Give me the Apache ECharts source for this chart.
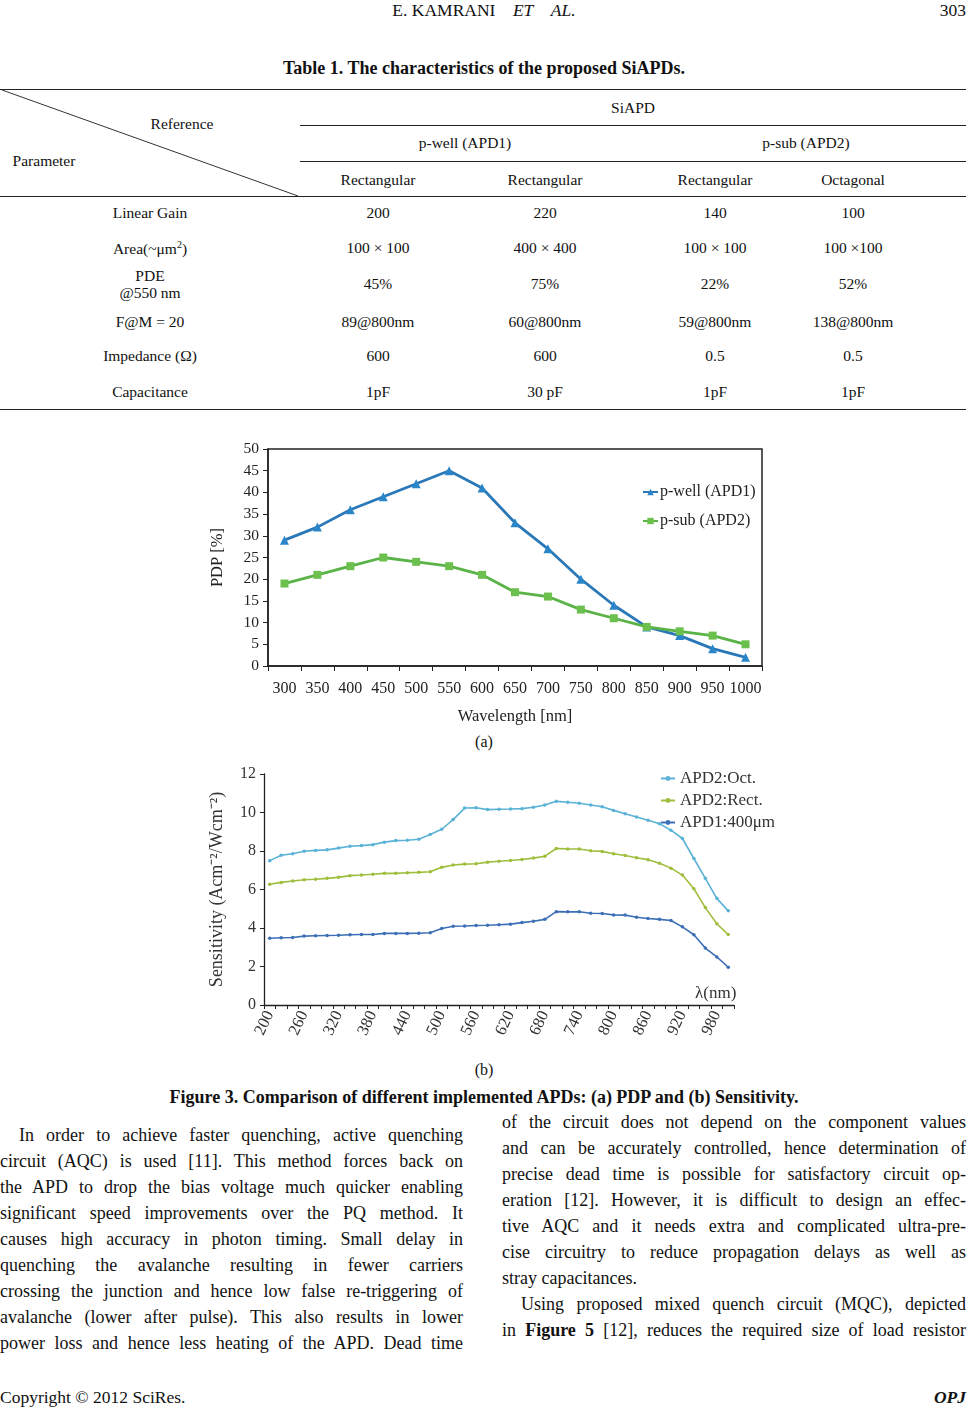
<!DOCTYPE html>
<html><head><meta charset="utf-8">
<script src="https://cdn.jsdelivr.net/npm/echarts@6/dist/echarts.min.js"></script>
<style>
html,body{margin:0;padding:0;background:#fff;}
#page{position:relative;width:968px;height:1414px;overflow:hidden;font-family:'Liberation Serif','Times New Roman',serif;color:#111;}
.t{position:absolute;white-space:nowrap;line-height:1;}
.c{transform:translate(-50%,-50%);}
.l{transform:translateY(-50%);}
.r{transform:translate(-100%,-50%);}
.hl{position:absolute;height:0;border-top:1.4px solid #222;}
.bl{position:absolute;font-size:18px;line-height:1;white-space:nowrap;transform:translateY(-50%);}
.j{text-align:justify;text-align-last:justify;}
#chartA{position:absolute;left:200px;top:435px;width:570px;height:295px;}
#chartB{position:absolute;left:200px;top:760px;width:590px;height:300px;}
</style></head>
<body><div id="page"></div>
<script>
// ---------- data ----------
const tableRowLabels = ['Linear Gain','Area(~μm<sup style="font-size:10px">2</sup>)','PDE<br>@550 nm','F@M = 20','Impedance (Ω)','Capacitance'];
const tableColA = ['200','100 × 100','45%','89@800nm','600','1pF'];
const tableColB = ['220','400 × 400','75%','60@800nm','600','30 pF'];
const tableColC = ['140','100 × 100','22%','59@800nm','0.5','1pF'];
const tableColD = ['100','100 ×100','52%','138@800nm','0.5','1pF'];
const tableShapes = ['Rectangular','Rectangular','Rectangular','Octagonal'];

const pdpWavelengths = ['300','350','400','450','500','550','600','650','700','750','800','850','900','950','1000'];
const pdpPWell = [29,32,36,39,42,45,41,33,27,20,14,9,7,4,2];
const pdpPSub  = [19,21,23,25,24,23,21,17,16,13,11,9,8,7,5];

const sensWavelengths = ['200','220','240','260','280','300','320','340','360','380','400','420','440','460','480','500','520','540','560','580','600','620','640','660','680','700','720','740','760','780','800','820','840','860','880','900','920','940','960','980','1000'];
const sensApd2Oct  = [7.5,7.78,7.86,7.99,8.03,8.06,8.15,8.25,8.28,8.33,8.46,8.54,8.56,8.61,8.86,9.13,9.63,10.23,10.25,10.15,10.17,10.18,10.2,10.27,10.39,10.58,10.53,10.48,10.39,10.3,10.11,9.94,9.77,9.6,9.42,9.08,8.65,7.61,6.58,5.54,4.89];
const sensApd2Rect = [6.27,6.37,6.44,6.51,6.53,6.58,6.63,6.72,6.75,6.79,6.84,6.84,6.87,6.89,6.92,7.15,7.27,7.32,7.34,7.42,7.47,7.51,7.56,7.63,7.73,8.13,8.11,8.1,8.01,7.98,7.86,7.77,7.65,7.55,7.36,7.11,6.75,6.04,5.06,4.22,3.66];
const sensApd1     = [3.47,3.49,3.51,3.58,3.6,3.61,3.62,3.65,3.66,3.66,3.72,3.72,3.72,3.73,3.75,3.97,4.09,4.1,4.13,4.14,4.17,4.2,4.28,4.35,4.45,4.85,4.84,4.84,4.77,4.75,4.68,4.67,4.56,4.49,4.45,4.39,4.06,3.65,2.96,2.5,1.96];

const leftLines = [
 ['In order to achieve faster quenching, active quenching',1],
 ['circuit (AQC) is used [11]. This method forces back on',1],
 ['the APD to drop the bias voltage much quicker enabling',1],
 ['significant speed improvements over the PQ method. It',1],
 ['causes high accuracy in photon timing. Small delay in',1],
 ['quenching the avalanche resulting in fewer carriers',1],
 ['crossing the junction and hence low false re-triggering of',1],
 ['avalanche (lower after pulse). This also results in lower',1],
 ['power loss and hence less heating of the APD. Dead time',1]
];
const rightLines = [
 ['of the circuit does not depend on the component values',1],
 ['and can be accurately controlled, hence determination of',1],
 ['precise dead time is possible for satisfactory circuit op-',1],
 ['eration [12]. However, it is difficult to design an effec-',1],
 ['tive AQC and it needs extra and complicated ultra-pre-',1],
 ['cise circuitry to reduce propagation delays as well as',1],
 ['stray capacitances.',0],
 ['Using proposed mixed quench circuit (MQC), depicted',1],
 ['in <b>Figure 5</b> [12], reduces the required size of load resistor',1]
];

// ---------- page text ----------
const page = document.getElementById('page');
function txt(html, x, y, cls, style){
  const d = document.createElement('div');
  d.className = 't ' + cls;
  d.style.left = x + 'px'; d.style.top = y + 'px';
  if (style) d.style.cssText += style;
  d.innerHTML = html; page.appendChild(d); return d;
}
function hline(x1, x2, y){
  const d = document.createElement('div'); d.className='hl';
  d.style.left = x1+'px'; d.style.width=(x2-x1)+'px'; d.style.top=y+'px'; page.appendChild(d);
}
txt('E. KAMRANI&nbsp;&nbsp;&nbsp;&nbsp;<i>ET&nbsp;&nbsp;&nbsp;&nbsp;AL.</i>', 484, 11, 'c', 'font-size:17.5px;');
txt('303', 966, 11, 'r', 'font-size:17.5px;');
txt('<b>Table 1. The characteristics of the proposed SiAPDs.</b>', 484, 68, 'c', 'font-size:18px;');
hline(0, 966, 89); hline(300, 966, 125); hline(300, 966, 161); hline(0, 966, 196); hline(0, 966, 409);
const svg = document.createElementNS('http://www.w3.org/2000/svg','svg');
svg.setAttribute('width','968'); svg.setAttribute('height','220');
svg.style.cssText='position:absolute;left:0;top:0;';
svg.innerHTML = '<line x1="2" y1="90" x2="298" y2="196" stroke="#333" stroke-width="1"/>';
page.appendChild(svg);
const fs = 'font-size:15.5px;';
txt('Reference', 182, 124, 'c', fs);
txt('Parameter', 44, 161, 'c', fs);
txt('SiAPD', 633, 108, 'c', fs);
txt('p-well (APD1)', 465, 143, 'c', fs);
txt('p-sub (APD2)', 806, 143, 'c', fs);
const colX = [378, 545, 715, 853];
tableShapes.forEach((s,i)=>txt(s, colX[i], 180, 'c', fs));
const rowY = [213, 248, 284, 322, 356, 392];
const cols = [tableColA, tableColB, tableColC, tableColD];
tableRowLabels.forEach((lab,r)=>{
  txt(lab, 150, rowY[r], 'c', fs + (r===2?'text-align:center;line-height:17px;':''));
  cols.forEach((col,c)=>txt(col[r], colX[c], rowY[r], 'c', fs));
});
txt('(a)', 484, 742, 'c', 'font-size:16px;');
txt('(b)', 484, 1070, 'c', 'font-size:16px;');
txt('<b>Figure 3. Comparison of different implemented APDs: (a) PDP and (b) Sensitivity.</b>', 484, 1097, 'c', 'font-size:18px;');

function bodyLine(html, x, w, y, just, indent){
  const d = document.createElement('div');
  d.className = 'bl' + (just ? ' j' : '');
  d.style.left = (x+indent)+'px'; d.style.width = (w-indent)+'px'; d.style.top = y+'px';
  d.innerHTML = html; page.appendChild(d);
}
leftLines.forEach((l,i)=>bodyLine(l[0], 0, 463, 1135 + 26*i, l[1], i===0?19:0));
rightLines.forEach((l,i)=>bodyLine(l[0], 502, 464, 1122 + 26*i, l[1], i===7?19:0));
txt('Copyright © 2012 SciRes.', 0, 1398, 'l', 'font-size:17.5px;');
txt('<b><i>OPJ</i></b>', 966, 1398, 'r', 'font-size:17.5px;');

const ca = document.createElement('div'); ca.id='chartA'; page.appendChild(ca);
const cb = document.createElement('div'); cb.id='chartB'; page.appendChild(cb);

// ---------- chart (a) ----------
const serif = "'Liberation Serif','Times New Roman',serif";
const chartA = echarts.init(ca, null, {renderer:'canvas'});
chartA.setOption({
  animation:false,
  backgroundColor:'transparent',
  grid:{left:68, right:8, top:14, bottom:62, show:true, borderColor:'#222', borderWidth:1.5, backgroundColor:'transparent'},
  legend:{
    orient:'vertical', left:437, top:44, itemGap:13, itemWidth:15, itemHeight:8, itemStyle:{},
    textStyle:{fontFamily:serif, fontSize:16, color:'#222', padding:[0,0,0,-3]},
    data:['p-well (APD1)','p-sub (APD2)']
  },
  xAxis:{
    type:'category', data:pdpWavelengths, boundaryGap:true,
    name:'Wavelength [nm]', nameLocation:'middle', nameGap:42,
    nameTextStyle:{fontFamily:serif, fontSize:16.5, color:'#222'},
    axisLine:{show:true, lineStyle:{color:'#222', width:1.5}},
    axisTick:{show:true, length:5, lineStyle:{color:'#222'}},
    axisLabel:{fontFamily:serif, fontSize:16, color:'#222', margin:15, interval:0},
    splitLine:{show:false}
  },
  yAxis:{
    type:'value', min:0, max:50, interval:5,
    name:'PDP [%]', nameLocation:'middle', nameGap:42,
    nameTextStyle:{fontFamily:serif, fontSize:16.5, color:'#222'},
    axisLine:{show:true, lineStyle:{color:'#222', width:1.5}},
    axisTick:{show:true, length:5, lineStyle:{color:'#222'}},
    axisLabel:{fontFamily:serif, fontSize:15.5, color:'#222', margin:9},
    splitLine:{show:false}
  },
  series:[
    {name:'p-well (APD1)', type:'line', data:pdpPWell, symbol:'triangle', symbolSize:9,
     lineStyle:{color:'#2a78b8', width:2.8}, itemStyle:{color:'#2a86c8'}},
    {name:'p-sub (APD2)', type:'line', data:pdpPSub, symbol:'rect', symbolSize:8,
     lineStyle:{color:'#59b346', width:2.8}, itemStyle:{color:'#6cc04e'}}
  ]
});

// ---------- chart (b) ----------
const chartB = echarts.init(cb, null, {renderer:'canvas'});
chartB.setOption({
  animation:false,
  backgroundColor:'transparent',
  grid:{left:62, right:56, top:14, bottom:55},
  legend:{
    orient:'vertical', left:455, top:5, itemGap:5, itemWidth:14, itemHeight:6,
    textStyle:{fontFamily:serif, fontSize:17, color:'#333'},
    data:['APD2:Oct.','APD2:Rect.','APD1:400μm']
  },
  graphic:[{type:'text', left:495, top:225, style:{text:'λ(nm)', font:"17px 'Liberation Serif', serif", fill:'#333'}}],
  xAxis:{
    type:'category', data:sensWavelengths, boundaryGap:true,
    axisLine:{show:true, lineStyle:{color:'#222', width:1.3}},
    axisTick:{show:true, interval:0, length:4, lineStyle:{color:'#222'}},
    axisLabel:{fontFamily:serif, fontSize:16.5, color:'#333', rotate:65, margin:7,
      interval:function(i){return i % 3 === 0;}},
    splitLine:{show:false}
  },
  yAxis:{
    type:'value', min:0, max:12, interval:2,
    name:'Sensitivity (Acm⁻²/Wcm⁻²)', nameLocation:'middle', nameGap:38,
    nameTextStyle:{fontFamily:serif, fontSize:18, color:'#333'},
    axisLine:{show:true, lineStyle:{color:'#222', width:1.3}},
    axisTick:{show:true, length:4, lineStyle:{color:'#222'}},
    axisLabel:{fontFamily:serif, fontSize:16, color:'#333', margin:8},
    splitLine:{show:false}
  },
  series:[
    {name:'APD2:Oct.', type:'line', data:sensApd2Oct, symbol:'circle', symbolSize:3.5,
     lineStyle:{color:'#5ab3d6', width:1.6}, itemStyle:{color:'#5ab3d6'}},
    {name:'APD2:Rect.', type:'line', data:sensApd2Rect, symbol:'circle', symbolSize:3.5,
     lineStyle:{color:'#9fbe3d', width:1.6}, itemStyle:{color:'#9fbe3d'}},
    {name:'APD1:400μm', type:'line', data:sensApd1, symbol:'circle', symbolSize:3.5,
     lineStyle:{color:'#3d6fb6', width:1.6}, itemStyle:{color:'#3d6fb6'}}
  ]
});
</script>
</body></html>
